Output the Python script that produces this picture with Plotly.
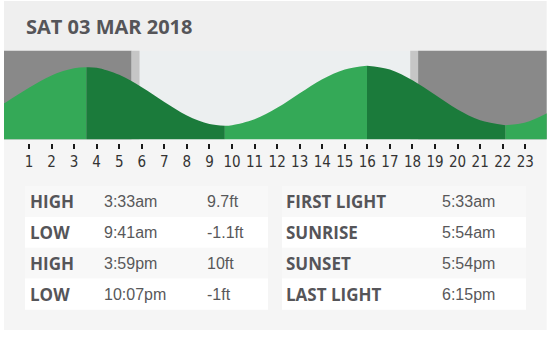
import plotly.graph_objects as go

W, H = 553, 337

# ---------------- data ----------------
date_label = "SAT 03 MAR 2018"

# tide table (type, time, height)
tide_types = ["HIGH", "LOW", "HIGH", "LOW"]
tide_times = ["3:33am", "9:41am", "3:59pm", "10:07pm"]
tide_heights_txt = ["9.7ft", "-1.1ft", "10ft", "-1ft"]
tide_heights = [9.7, -1.1, 10.0, -1.0]

# sun table
sun_labels = ["FIRST LIGHT", "SUNRISE", "SUNSET", "LAST LIGHT"]
sun_times = ["5:33am", "5:54am", "5:54pm", "6:15pm"]

# tide height at each hour (ft), hour -1 .. 24
curve_hours = list(range(-1, 25))
curve_heights = [0.9, 3.3, 5.9, 8.2, 9.5, 9.6, 8.3, 6.0, 3.3, 0.8, -0.8,
                 -1.0, 0.1, 2.2, 4.9, 7.5, 9.3, 10.0, 9.3, 7.3, 4.6, 1.9,
                 -0.1, -1.0, -0.5, 1.3]

tick_hours = list(range(1, 24))
tick_labels = [str(h) for h in tick_hours]


def to_hours(t):
    ampm = t[-2:]
    hh, mm = t[:-2].split(":")
    h = int(hh) % 12 + (12 if ampm == "pm" else 0)
    return h + int(mm) / 60.0


extreme_h = [to_hours(t) for t in tide_times]
first_light, sunrise, sunset, last_light = [to_hours(t) for t in sun_times]

# ---------------- style ----------------
LIGHT_GREEN = "#34a957"
DARK_GREEN = "#1b7b3b"
NIGHT = "#898989"
TWILIGHT = "#c6c6c6"
DAY = "#eceff0"
CARD_TOP = "#efefef"
CARD_BOT = "#f5f5f5"
TXT = "#555559"
TXT2 = "#58585a"

XR = [-0.108, 23.95]
YR = [-3.61, 12.76]


def px(x):
    return x / W


def py(y):
    return 1 - y / H


fig = go.Figure()

# merge hourly readings with the extremes
pts = []
for h, v in zip(curve_hours, curve_heights):
    if min(abs(h - e) for e in extreme_h) > 0.2:
        pts.append((h, v))
for h, v in zip(extreme_h, tide_heights):
    pts.append((h, v))
pts.sort()

bounds = [curve_hours[0]] + extreme_h + [curve_hours[-1]]
for i in range(len(bounds) - 1):
    a, b = bounds[i], bounds[i + 1]
    seg = [(h, v) for h, v in pts if a - 1e-9 <= h <= b + 1e-9]
    xs = [p[0] for p in seg]
    ys = [p[1] for p in seg]
    color = LIGHT_GREEN if ys[-1] > ys[0] else DARK_GREEN
    fig.add_trace(go.Scatter(x=[a, b], y=[YR[0] - 2, YR[0] - 2], mode="lines",
                             line=dict(width=0), hoverinfo="skip", showlegend=False))
    fig.add_trace(go.Scatter(x=xs, y=ys, mode="lines", fill="tonexty",
                             fillcolor=color, line=dict(width=0, shape="spline", color=color),
                             hoverinfo="skip", showlegend=False))

# dummy trace for tick axis
fig.add_trace(go.Scatter(x=[None], y=[None], xaxis="x2", yaxis="y", showlegend=False))

shapes = []
# card backgrounds
shapes.append(dict(type="rect", xref="paper", yref="paper", x0=px(4), x1=px(546.7),
                   y0=py(51), y1=py(1), fillcolor=CARD_TOP, line=dict(width=0), layer="below"))
shapes.append(dict(type="rect", xref="paper", yref="paper", x0=px(4), x1=px(546.7),
                   y0=py(330), y1=py(139), fillcolor=CARD_BOT, line=dict(width=0), layer="below"))
# night / twilight bands
for x0, x1, c in [(XR[0] - 1, first_light, NIGHT), (first_light, sunrise, TWILIGHT),
                  (sunset, last_light, TWILIGHT), (last_light, XR[1] + 1, NIGHT)]:
    shapes.append(dict(type="rect", xref="x", yref="y domain", x0=x0, x1=x1, y0=0, y1=1,
                       fillcolor=c, line=dict(width=0), layer="below"))

# table rows
row_c = [201.5, 232.5, 263.3, 294.2]
row_h = 31.2
for i, yc in enumerate(row_c):
    col = "#f8f8f8" if i % 2 == 0 else "#ffffff"
    for x0, x1 in [(25, 268), (282, 526)]:
        shapes.append(dict(type="rect", xref="paper", yref="paper", x0=px(x0), x1=px(x1),
                           y0=py(yc + row_h / 2), y1=py(yc - row_h / 2),
                           fillcolor=col, line=dict(width=0), layer="below"))

ann = []
ann.append(dict(text="<b>" + date_label + "</b>", x=px(24), y=py(27), xref="paper", yref="paper",
                xanchor="left", yanchor="middle", showarrow=False,
                font=dict(family="Open Sans", size=20, color=TXT)))
LBL = dict(family="Open Sans", size=17, color=TXT)
VAL = dict(family="Liberation Sans, Arial", size=16, color=TXT2)
for i, yc in enumerate(row_c):
    ann.append(dict(text="<b>" + tide_types[i] + "</b>", x=px(28), y=py(yc), font=LBL))
    ann.append(dict(text=tide_times[i], x=px(102), y=py(yc), font=VAL))
    ann.append(dict(text=tide_heights_txt[i], x=px(205), y=py(yc), font=VAL))
    ann.append(dict(text="<b>" + sun_labels[i] + "</b>", x=px(284), y=py(yc), font=LBL))
    ann.append(dict(text=sun_times[i], x=px(440), y=py(yc), font=VAL))
for a in ann[1:]:
    a.update(xref="paper", yref="paper", xanchor="left", yanchor="middle", showarrow=False)

fig.update_layout(
    width=W, height=H, margin=dict(l=0, r=0, t=0, b=0),
    paper_bgcolor="#ffffff", plot_bgcolor=DAY,
    showlegend=False,
    xaxis=dict(domain=[px(4), px(546.7)], range=XR, showgrid=False, zeroline=False,
               showticklabels=False, ticks="", showline=False, fixedrange=True),
    xaxis2=dict(overlaying="x", anchor="free", position=py(143), range=XR,
                tickmode="array", tickvals=tick_hours, ticktext=tick_labels,
                ticks="outside", ticklen=5, tickwidth=2, tickcolor="#1a1a1a",
                showgrid=False, zeroline=False, showline=False, side="bottom",
                tickfont=dict(family="Liberation Sans Narrow, DejaVu Sans Condensed, Roboto",
                              size=15, color="#333333")),
    yaxis=dict(domain=[py(139.3), py(50.7)], range=YR, visible=False, fixedrange=True),
    shapes=shapes, annotations=ann,
)

fig.write_html("out.html")
